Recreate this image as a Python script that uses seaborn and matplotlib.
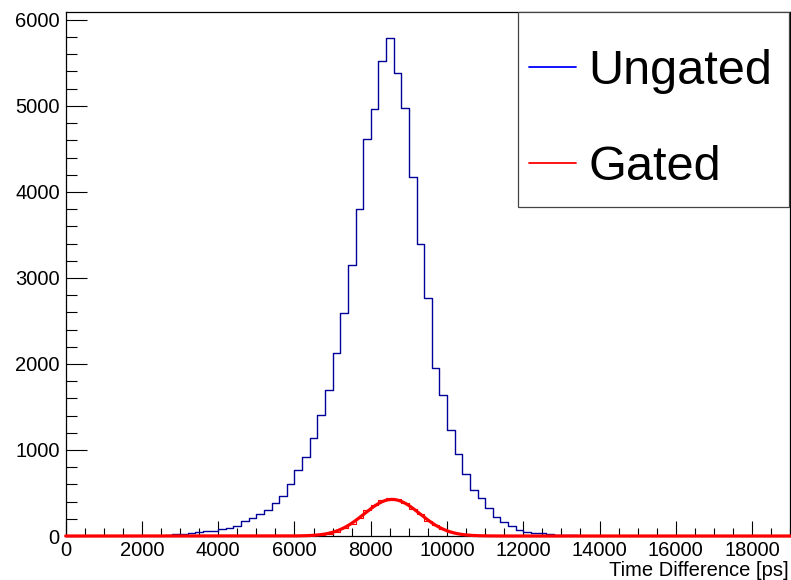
import numpy as np
import pandas as pd
import matplotlib
matplotlib.use("Agg")
import matplotlib.pyplot as plt
from matplotlib.lines import Line2D
from matplotlib.patches import Rectangle
from matplotlib.ticker import MultipleLocator
import seaborn as sns

# Histogram binning (ps)
bin_width = 200
x_min, x_max = 0, 19000
y_max = 6095

# Ungated time-difference counts, one value per 200 ps bin from 2400 ps
ungated_start = 2400
ungated_counts = [5, 12, 18, 27, 38, 46, 60, 60, 77, 96,
                  120, 180, 207, 257, 297, 388, 460, 610, 770, 922,
                  1139, 1402, 1703, 2128, 2592, 3152, 3797, 4615, 4963, 5527,
                  5794, 5384, 4979, 4171, 3392, 2768, 1955, 1634, 1228, 950,
                  720, 537, 446, 330, 222, 160, 118, 72, 52, 40,
                  36, 25, 15, 12, 10, 5]

# Gated counts, one value per 200 ps bin from 6400 ps
gated_start = 6400
gated_counts = [5, 12, 27, 50, 89, 135, 205, 300, 359, 417,
                444, 429, 378, 313, 251, 174, 127, 81, 50, 31,
                20, 10, 5]

# Gaussian fit of the gated spectrum
fit_const = 425
fit_mean = 8560
fit_sigma = 730

series_labels = ["Ungated", "Gated"]

edges = np.arange(x_min, x_max + bin_width, bin_width)
centers = edges[:-1] + bin_width / 2


def full_counts(start, counts):
    out = np.zeros(len(centers))
    i0 = int((start - x_min) / bin_width)
    out[i0:i0 + len(counts)] = counts
    return out


df_ungated = pd.DataFrame({"t": centers, "n": full_counts(ungated_start, ungated_counts)})
df_gated = pd.DataFrame({"t": centers, "n": full_counts(gated_start, gated_counts)})

xs = np.linspace(x_min, x_max, 3000)
df_fit = pd.DataFrame({"t": xs,
                       "n": fit_const * np.exp(-0.5 * ((xs - fit_mean) / fit_sigma) ** 2)})

sns.set_style("ticks")
plt.rcParams["font.family"] = ["Liberation Sans", "DejaVu Sans"]
plt.rcParams["text.color"] = "black"
plt.rcParams["axes.labelcolor"] = "black"

W, H = 791, 580
fig = plt.figure(figsize=(W / 100, H / 100), dpi=100)
ax = fig.add_axes([65.7 / W, 1 - 536 / H, (790.2 - 65.7) / W, (536 - 11.7) / H])

blue_hist = "#000099"
red = "#ff0000"

sns.histplot(data=df_ungated, x="t", weights="n", binwidth=bin_width,
             binrange=(x_min, x_max), element="step",
             fill=False, color=blue_hist, linewidth=1.0, ax=ax, zorder=3)
sns.histplot(data=df_gated, x="t", weights="n", binwidth=bin_width,
             binrange=(x_min, x_max), element="step",
             fill=False, color=red, linewidth=0.8, ax=ax, zorder=4)
sns.lineplot(data=df_fit, x="t", y="n", sort=False, color=red, linewidth=2.3,
             ax=ax, zorder=5, clip_on=False)

ax.set_xlim(x_min, x_max)
ax.set_ylim(0, y_max)
ax.set_ylabel("")
ax.set_xlabel("Time Difference [ps]", fontsize=14.5, loc="right", color="black")
ax.xaxis.set_label_coords(0.9975, -0.047)

ax.xaxis.set_major_locator(MultipleLocator(2000))
ax.xaxis.set_minor_locator(MultipleLocator(500))
ax.yaxis.set_major_locator(MultipleLocator(1000))
ax.yaxis.set_minor_locator(MultipleLocator(200))

ax.tick_params(axis="both", which="both", direction="in", top=False, right=False,
               color="black", width=0.8, labelsize=14.5, labelcolor="black")
ax.tick_params(axis="x", which="major", length=11, pad=3.5)
ax.tick_params(axis="x", which="minor", length=5.5)
ax.tick_params(axis="y", which="major", length=15, pad=4.2)
ax.tick_params(axis="y", which="minor", length=7.9)

for side in ["top", "right", "left", "bottom"]:
    ax.spines[side].set_visible(True)
    ax.spines[side].set_color("black")
    ax.spines[side].set_linewidth(0.9)

# Legend box drawn as a framed rectangle, entries placed inside it
leg_x0, leg_y0, leg_x1, leg_y1 = 518.3, 11.7, 789.0, 207.3
box = Rectangle((leg_x0 / W, 1 - leg_y1 / H), (leg_x1 - leg_x0) / W,
                (leg_y1 - leg_y0) / H, transform=fig.transFigure,
                facecolor="white", edgecolor="#444444", linewidth=0.9, zorder=2)
fig.add_artist(box)

handles = [Line2D([], [], color="#0000ff", linewidth=1.3),
           Line2D([], [], color=red, linewidth=1.3)]
leg = fig.legend(handles, series_labels,
                 bbox_to_anchor=(529 / W, 1 - 49 / H),
                 loc="upper left", fontsize=35, frameon=False,
                 borderpad=0.0, labelspacing=1.04, handlelength=0.97,
                 handletextpad=0.25, borderaxespad=0.0)
leg.set_zorder(3)
for t in leg.get_texts():
    t.set_color("black")

fig.savefig("out.png", dpi=100)
